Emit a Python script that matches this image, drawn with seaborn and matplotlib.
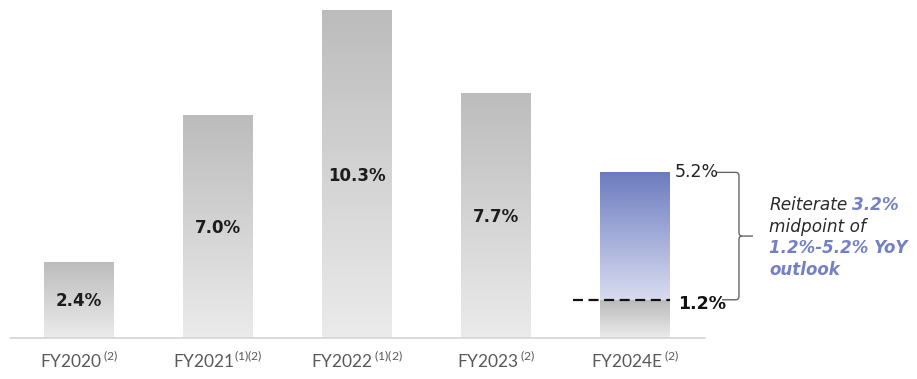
import numpy as np
import pandas as pd
import matplotlib
matplotlib.use("Agg")
import matplotlib.pyplot as plt
import seaborn as sns
from matplotlib.colors import to_rgb
from matplotlib.path import Path
from matplotlib.patches import PathPatch

# ---- data ----
categories = ["FY2020", "FY2021", "FY2022", "FY2023", "FY2024E"]
footnotes = [" (2)", "(1)(2)", " (1)(2)", " (2)", " (2)"]
growth = [2.4, 7.0, 10.3, 7.7, 5.2]
bar_labels = ["2.4%", "7.0%", "10.3%", "7.7%", ""]
outlook_low = 1.2
outlook_high = 5.2
outlook_mid = 3.2
low_label = "1.2%"
high_label = "5.2%"

sns.set_theme(style="white")
plt.rcParams["font.family"] = ["Lato", "DejaVu Sans"]
plt.rcParams["mathtext.fontset"] = "custom"
plt.rcParams["mathtext.rm"] = "Lato"
plt.rcParams["mathtext.it"] = "Lato:italic"
plt.rcParams["mathtext.bf"] = "Lato:bold"

fig = plt.figure(figsize=(9.17, 3.79), dpi=100)
ax = fig.add_axes([0, 41 / 379, 1, 338 / 379])

df = pd.DataFrame({"cat": categories, "val": growth})
sns.barplot(data=df, x="cat", y="val", width=0.5, color="#d0d0d0",
            edgecolor="none", ax=ax, zorder=2)

for s in ax.spines.values():
    s.set_visible(False)
ax.set_yticks([])
ax.set_xlabel("")
ax.set_ylabel("")


def gradient(c_bottom, c_top, n=256):
    b = np.array(to_rgb(c_bottom))
    t = np.array(to_rgb(c_top))
    f = np.linspace(0, 1, n)[:, None]
    return (b * (1 - f) + t * f)[:, None, :]


gray_bottom, gray_top = "#ebebeb", "#bcbcbc"
blue_bottom, blue_top = "#d9dcf0", "#6c7cc0"

for i, p in enumerate(ax.patches):
    x0, w = p.get_x(), p.get_width()
    h = p.get_height()
    if i == len(categories) - 1:
        segs = [(0, outlook_low, gray_bottom, "#b9b9b9"),
                (outlook_low, h, blue_bottom, blue_top)]
    else:
        segs = [(0, h, gray_bottom, gray_top)]
    for y0, y1, cb, ct in segs:
        im = ax.imshow(gradient(cb, ct), extent=(x0, x0 + w, y0, y1),
                       origin="lower", aspect="auto", zorder=3,
                       interpolation="bilinear")
        im.set_clip_path(p)
    if bar_labels[i]:
        ax.text(i, h / 2 - 0.05, bar_labels[i], ha="center", va="center",
                fontsize=12, fontweight="bold", color="#1c1c1c",
                family="DejaVu Sans", zorder=5)

ax.set_xlim(-79 / 139, (917 - 79) / 139)
ax.set_ylim(0, 338 / 31.85)

# baseline
ax.plot([-0.5, 4.5], [0, 0], color="#d4d4d4", lw=1.2, zorder=4,
        clip_on=False)

# tick labels
ax.set_xticks(range(len(categories)))
ax.set_xticklabels([c + ("\u2009" if f.startswith(" ") else "") + "$^{" + f.strip() + "}$"
                    for c, f in zip(categories, footnotes)],
                   fontsize=12.5, color="#595959")
ax.tick_params(axis="x", length=0, pad=9)

# outlook annotations
n = len(categories) - 1
ax.plot([n - 0.446, n + 0.25], [outlook_low, outlook_low], color="#111111",
        lw=1.6, ls=(0, (4.5, 2.5)), zorder=6)
ax.text(4.288, outlook_high, high_label, ha="left", va="center",
        fontsize=12.5, color="#222222", family="DejaVu Sans", zorder=6)
ax.text(4.31, outlook_low - 0.12, low_label, ha="left", va="center",
        fontsize=12.5, color="#111111", fontweight="bold",
        family="DejaVu Sans", zorder=6)

# bracket with slightly rounded corners
bx = 4.748
r_x, r_y = 0.022, 0.11
verts = [(4.59, outlook_high), (bx - r_x, outlook_high), (bx, outlook_high), (bx, outlook_high - r_y),
         (bx, outlook_mid + r_y), (bx, outlook_mid), (bx + r_x, outlook_mid), (4.849, outlook_mid)]
codes = [Path.MOVETO, Path.LINETO, Path.CURVE3, Path.CURVE3,
         Path.LINETO, Path.CURVE3, Path.CURVE3, Path.LINETO]
ax.add_patch(PathPatch(Path(verts, codes), fill=False, edgecolor="#666666",
                       lw=1.0, zorder=6, clip_on=False))
verts2 = [(4.626, outlook_low), (bx - r_x, outlook_low), (bx, outlook_low), (bx, outlook_low + r_y),
          (bx, outlook_mid - r_y), (bx, outlook_mid), (bx + r_x, outlook_mid)]
codes2 = [Path.MOVETO, Path.LINETO, Path.CURVE3, Path.CURVE3,
          Path.LINETO, Path.CURVE3, Path.CURVE3]
ax.add_patch(PathPatch(Path(verts2, codes2), fill=False, edgecolor="#666666",
                       lw=1.0, zorder=6, clip_on=False))

dark = "#2a2a2a"
blue = "#7480c4"
tx = 4.965
fam = "DejaVu Sans"
t1 = ax.text(tx, 4.17, "Reiterate", ha="left", va="center", fontsize=12.2,
             style="italic", color=dark, family=fam)
ax.annotate("3.2%", xy=(1, 0.5), xycoords=t1, xytext=(3, 0),
            textcoords="offset points", ha="left", va="center",
            fontsize=12.2, style="italic", fontweight="bold", color=blue,
            family=fam)
ax.text(tx, 3.50, "midpoint of", ha="left", va="center", fontsize=12.2,
        style="italic", color=dark, family=fam)
ax.text(tx, 2.83, "1.2%-5.2% YoY", ha="left", va="center", fontsize=12.0,
        style="italic", fontweight="bold", color=blue, family=fam)
ax.text(tx, 2.14, "outlook", ha="left", va="center", fontsize=12.0,
        style="italic", fontweight="bold", color=blue, family=fam)

fig.savefig("out.png", dpi=100)
